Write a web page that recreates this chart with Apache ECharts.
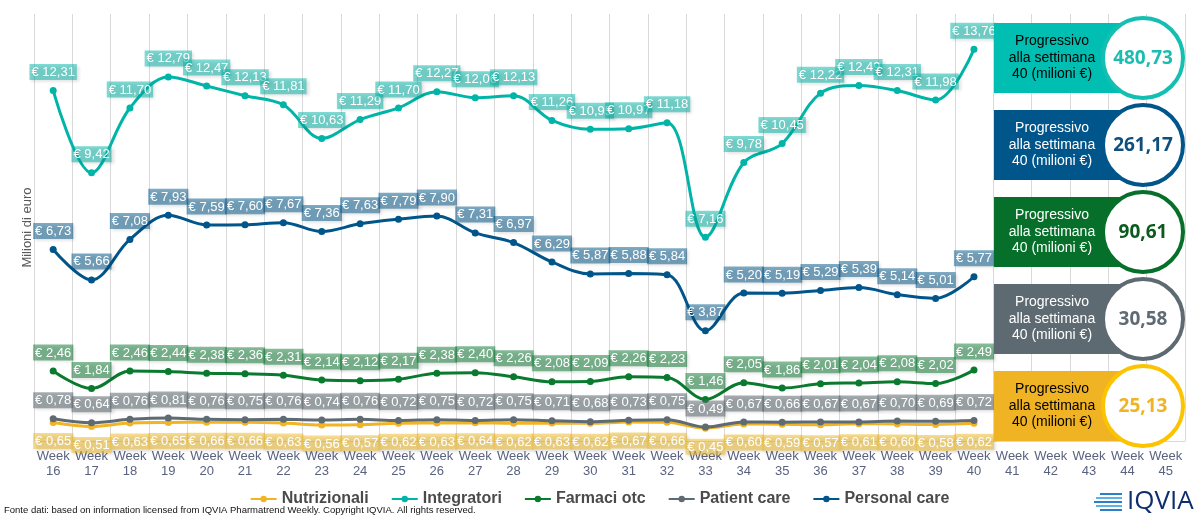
<!DOCTYPE html>
<html>
<head>
<meta charset="utf-8">
<script src="https://cdn.jsdelivr.net/npm/echarts@6/dist/echarts.min.js"></script>
<style>html,body{margin:0;padding:0;background:#fff;}#c{width:1199px;height:518px;}</style>
</head>
<body>
<div id="c"></div>
<script>
var weeks = ['16','17','18','19','20','21','22','23','24','25','26','27','28','29','30','31','32','33','34','35','36','37','38','39','40','41','42','43','44','45'];
var nutrizionali = [0.65,0.51,0.63,0.65,0.66,0.66,0.63,0.56,0.57,0.62,0.63,0.64,0.62,0.63,0.62,0.67,0.66,0.45,0.60,0.59,0.57,0.61,0.60,0.58,0.62];
var integratori = [12.31,9.42,11.70,12.79,12.47,12.13,11.81,10.63,11.29,11.70,12.27,12.06,12.13,11.26,10.95,10.97,11.18,7.16,9.78,10.45,12.22,12.49,12.31,11.98,13.76];
var farmaciOtc = [2.46,1.84,2.46,2.44,2.38,2.36,2.31,2.14,2.12,2.17,2.38,2.40,2.26,2.08,2.09,2.26,2.23,1.46,2.05,1.86,2.01,2.04,2.08,2.02,2.49];
var patientCare = [0.78,0.64,0.76,0.81,0.76,0.75,0.76,0.74,0.76,0.72,0.75,0.72,0.75,0.71,0.68,0.73,0.75,0.49,0.67,0.66,0.67,0.67,0.70,0.69,0.72];
var personalCare = [6.73,5.66,7.08,7.93,7.59,7.60,7.67,7.36,7.63,7.79,7.90,7.31,6.97,6.29,5.87,5.88,5.84,3.87,5.20,5.19,5.29,5.39,5.14,5.01,5.77];
var seriesNames = ['Nutrizionali','Integratori','Farmaci otc','Patient care','Personal care'];
var boxValues = ['480,73','261,17','90,61','30,58','25,13'];
var boxText = 'Progressivo\nalla settimana\n40 (milioni €)';
var footerText = 'Fonte dati: based on information licensed from IQVIA Pharmatrend Weekly. Copyright IQVIA. All rights reserved.';

var FONT = '"Liberation Sans", Arial, sans-serif';
var colors = ['#F1B425','#00B5A8','#0A7A2F','#5F6B73','#00558A'];
var labelBg = ['rgba(241,190,50,0.55)','rgba(0,181,168,0.5)','rgba(10,122,47,0.5)','rgba(95,107,115,0.55)','rgba(0,85,138,0.5)'];
var dataSets = [nutrizionali, integratori, farmaciOtc, patientCare, personalCare];
var labelPos = ['bottom','top','top','top','top'];

function fmt(v){ return '€ ' + v.toFixed(2).replace('.', ','); }

var series = dataSets.map(function(d, i){
  return {
    name: seriesNames[i],
    type: 'line',
    data: d,
    smooth: 0.35,
    symbol: 'circle',
    symbolSize: 7,
    lineStyle: {width: 3, color: colors[i]},
    itemStyle: {color: colors[i]},
    z: 2 + i,
    label: {
      show: true,
      position: labelPos[i],
      distance: 7,
      formatter: function(p){ return fmt(p.value); },
      color: '#fff',
      fontFamily: FONT,
      fontSize: 13,
      backgroundColor: labelBg[i],
      padding: [2,2,1,2],
      shadowColor: 'rgba(0,0,0,0.25)',
      shadowBlur: 3,
      shadowOffsetX: 2,
      shadowOffsetY: 2
    },
    emphasis: {disabled: true},
    animation: false
  };
});

var boxColors = ['#00BFB2','#00558A','#06702A','#5E6A71','#F0B323'];
var circleColors = ['#14BFB2','#00558A','#06702A','#5E6A71','#FBC300'];
var boxTextColors = ['#000','#fff','#fff','#fff','#000'];
var valueColors = ['#1ABDB0','#0F4F7E','#0A5C1E','#5F6A72','#F0B323'];
var boxCenters = [58,145,232,319,406];

var graphics = [];
boxValues.forEach(function(v, i){
  var cy = boxCenters[i];
  graphics.push({type:'rect', shape:{x:994, y:cy-35, width:140, height:70}, style:{fill:boxColors[i]}, z:100});
  graphics.push({type:'circle', shape:{cx:1143, cy:cy, r:40}, style:{fill:'#fff', stroke:circleColors[i], lineWidth:4}, z:101});
  graphics.push({type:'text', x:1052, y:cy, style:{text:boxText, fill:boxTextColors[i], font:'14px '+FONT, textAlign:'center', textVerticalAlign:'middle', lineHeight:16.5}, z:102});
  graphics.push({type:'text', x:1143, y:cy+1, style:{text:v, fill:valueColors[i], font:'bold 19px "Open Sans", sans-serif', textAlign:'center', textVerticalAlign:'middle'}, z:102});
});
graphics.push({type:'text', left:4, top:505, style:{text:footerText, fill:'#111', font:'9.5px '+FONT}, z:100});
// IQVIA logo
var lineYs = [493,497,501,505,509];
var lineW = [22,26,28,26,22];
lineYs.forEach(function(y, k){
  graphics.push({type:'rect', shape:{x:1122-lineW[k], y:y, width:lineW[k], height:2}, style:{fill: k%2 ? '#5BB4E5' : '#2A7FC8'}, z:100});
});
graphics.push({type:'text', x:1127, y:502, style:{text:'IQVIA', fill:'#0E2D6B', font:'26px "Open Sans", sans-serif', textVerticalAlign:'middle'}, z:100});

var chart = echarts.init(document.getElementById('c'), null, {renderer:'canvas'});
chart.setOption({
  animation: false,
  backgroundColor: '#fff',
  grid: {left:34, right:14, top:14, bottom:77, containLabel:false},
  xAxis: {
    type: 'category',
    data: weeks,
    boundaryGap: true,
    axisLine: {show:true, lineStyle:{color:'#d9d9d9'}},
    axisTick: {show:false},
    splitLine: {show:true, interval:0, lineStyle:{color:'#d9d9d9', width:1}},
    axisLabel: {interval:0, formatter: function(v){ return 'Week\n' + v; }, color:'#5A6280', fontFamily:FONT, fontSize:13, lineHeight:15, margin:8}
  },
  yAxis: {
    type: 'value', min:0, max:15,
    axisLabel:{show:false}, axisLine:{show:false}, axisTick:{show:false}, splitLine:{show:false},
    name: 'Milioni di euro', nameLocation:'middle', nameGap:0, nameRotate:90,
    nameTextStyle:{color:'#595959', fontFamily:FONT, fontSize:13, verticalAlign:'bottom'}
  },
  legend: {
    data: seriesNames,
    left: 'center',
    top: 486,
    itemWidth: 26,
    itemHeight: 8,
    itemGap: 22,
    textStyle: {color:'#4a4a4a', fontFamily:FONT, fontSize:16, fontWeight:'bold'}
  },
  series: series,
  graphic: graphics
});
</script>
</body>
</html>
